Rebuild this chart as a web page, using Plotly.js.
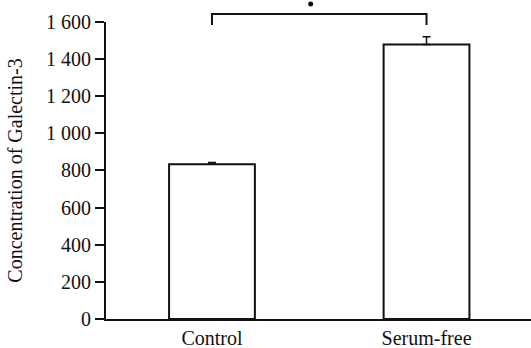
<!DOCTYPE html>
<html>
<head>
<meta charset="utf-8">
<script src="https://cdn.plot.ly/plotly-3.0.1.min.js"></script>
<style>html,body{margin:0;padding:0;background:#fff;}#chart{width:531px;height:348px;}</style>
</head>
<body>
<div id="chart"></div>
<script>
var categories = ["Control", "Serum-free"];
var values = [833, 1478];
var errors = [10, 42];
var tickValues = [0, 200, 400, 600, 800, 1000, 1200, 1400, 1600];
var tickLabels = ["0", "200", "400", "600", "800", "1 000", "1 200", "1 400", "1 600"];
var bracketX = [0, 0, 1, 1];
var bracketY = [1584, 1643, 1643, 1584];
var starX = [0.46];
var starY = [1697];

var yMax = 1600, yTop = 1718;
var font = {family: "Liberation Serif, Times New Roman, serif", size: 20, color: "#111"};

var traces = [
  {
    type: "bar",
    x: [0, 1],
    y: values,
    width: 0.4,
    marker: {color: "#ffffff", line: {color: "#111", width: 2}},
    error_y: {type: "data", symmetric: false, array: errors, arrayminus: [0, 0], color: "#111", thickness: 1.5, width: 4},
    hoverinfo: "none"
  },
  {
    type: "scatter",
    mode: "lines",
    x: bracketX,
    y: bracketY,
    yaxis: "y2",
    line: {color: "#111", width: 2},
    cliponaxis: false,
    hoverinfo: "none"
  },
  {
    type: "scatter",
    mode: "markers",
    x: starX,
    y: starY,
    yaxis: "y2",
    marker: {color: "#111", size: 5},
    cliponaxis: false,
    hoverinfo: "none"
  }
];

var layout = {
  width: 531,
  height: 348,
  margin: {l: 106, r: 0, t: 0, b: 29},
  paper_bgcolor: "#fff",
  plot_bgcolor: "rgba(0,0,0,0)",
  showlegend: false,
  font: font,
  xaxis: {
    range: [-0.494, 1.487],
    tickvals: [0, 1],
    ticktext: categories,
    showline: true,
    linecolor: "#111",
    linewidth: 2,
    ticks: "",
    showgrid: false,
    zeroline: false,
    tickfont: font
  },
  yaxis: {
    domain: [0, yMax / yTop],
    range: [0, yMax],
    tickvals: tickValues,
    ticktext: tickLabels,
    showline: true,
    linecolor: "#111",
    linewidth: 2,
    ticks: "outside",
    ticklen: 9,
    tickwidth: 2,
    tickcolor: "#111",
    showgrid: false,
    zeroline: false,
    tickfont: font,
    title: {text: "Concentration of Galectin-3", font: font, standoff: 18}
  },
  yaxis2: {
    domain: [0, 1],
    range: [0, yTop],
    anchor: "x",
    visible: false,
    showgrid: false,
    zeroline: false
  }
};

Plotly.newPlot("chart", traces, layout, {staticPlot: true});
</script>
</body>
</html>
